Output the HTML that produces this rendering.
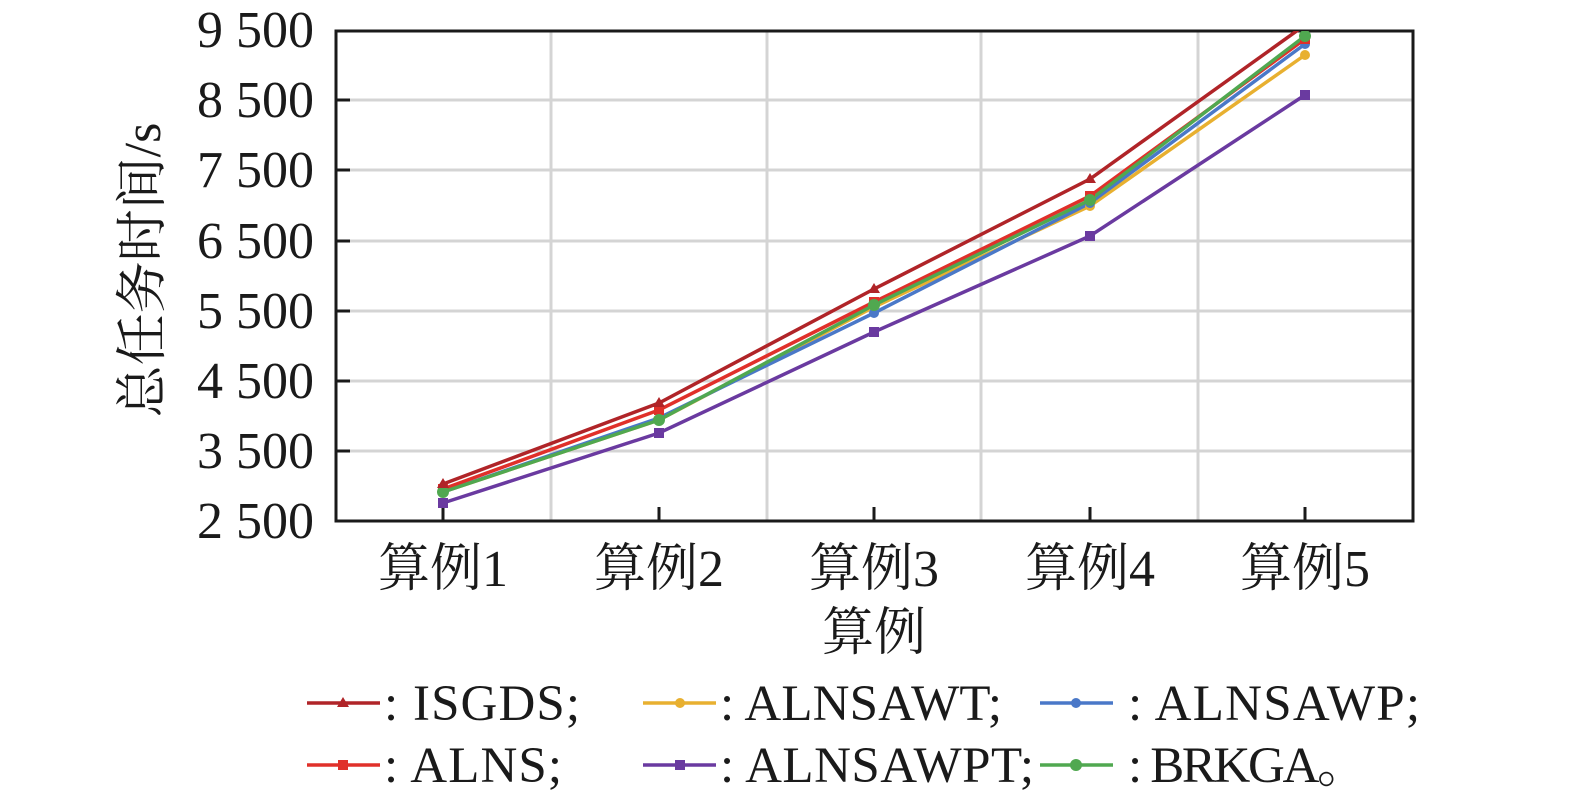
<!DOCTYPE html>
<html><head><meta charset="utf-8"><style>
body{margin:0;background:#fff;}
svg text{font-family:"Liberation Serif","Noto Serif CJK SC",serif;fill:#1a1a1a;}
</style></head><body>
<svg width="1575" height="797" viewBox="0 0 1575 797" xmlns="http://www.w3.org/2000/svg">
<defs><clipPath id="c"><rect x="336" y="31" width="1077" height="490"/></clipPath></defs>
<g stroke="#d4d4d4" stroke-width="3">
<line x1="336" x2="1413" y1="100" y2="100"/><line x1="336" x2="1413" y1="170" y2="170"/>
<line x1="336" x2="1413" y1="241" y2="241"/><line x1="336" x2="1413" y1="311" y2="311"/>
<line x1="336" x2="1413" y1="381" y2="381"/><line x1="336" x2="1413" y1="451" y2="451"/>
<line x1="551" x2="551" y1="31" y2="521"/><line x1="767" x2="767" y1="31" y2="521"/>
<line x1="981" x2="981" y1="31" y2="521"/><line x1="1198" x2="1198" y1="31" y2="521"/>
</g>
<rect x="336" y="31" width="1077" height="490" fill="none" stroke="#1a1a1a" stroke-width="3"/>
<g stroke="#1a1a1a" stroke-width="3">
<line x1="336" x2="350" y1="100" y2="100"/><line x1="336" x2="350" y1="170" y2="170"/>
<line x1="336" x2="350" y1="241" y2="241"/><line x1="336" x2="350" y1="311" y2="311"/>
<line x1="336" x2="350" y1="381" y2="381"/><line x1="336" x2="350" y1="451" y2="451"/>
<line x1="443" x2="443" y1="507" y2="521"/><line x1="659" x2="659" y1="507" y2="521"/>
<line x1="874" x2="874" y1="507" y2="521"/><line x1="1090" x2="1090" y1="507" y2="521"/>
<line x1="1305" x2="1305" y1="507" y2="521"/>
</g>
<g clip-path="url(#c)" fill="none" stroke-width="3.5">
<polyline stroke="#6a3aa0" points="443,503 659,433 874,332 1090,236 1305,95"/>
<polyline stroke="#e8b030" points="443,492 659,420 874,307 1090,206 1305,55"/>
<polyline stroke="#4a78c8" points="443,492 659,418 874,313 1090,203 1305,44"/>
<polyline stroke="#e0302a" points="443,489 659,410 874,302 1090,196 1305,39"/>
<polyline stroke="#50a850" points="443,492 659,420 874,305 1090,200 1305,36"/>
<polyline stroke="#b02428" points="443,484 659,403 874,289 1090,179 1305,25"/>
</g>
<g clip-path="url(#c)">
<g fill="#6a3aa0"><rect x="438" y="498" width="10" height="10"/><rect x="654" y="428" width="10" height="10"/><rect x="869" y="327" width="10" height="10"/><rect x="1085" y="231" width="10" height="10"/><rect x="1300" y="90" width="10" height="10"/></g>
<g fill="#e8b030"><circle cx="1305" cy="55" r="5"/><circle cx="1090" cy="206" r="5"/><circle cx="874" cy="307" r="5"/></g>
<g fill="#4a78c8"><circle cx="1305" cy="44" r="5"/><circle cx="874" cy="313" r="5"/><circle cx="1090" cy="203" r="5"/></g>
<g fill="#e0302a"><rect x="438" y="484" width="10" height="10"/><rect x="654" y="405" width="10" height="10"/><rect x="869" y="297" width="10" height="10"/><rect x="1085" y="191" width="10" height="10"/><rect x="1300" y="34" width="10" height="10"/></g>
<g fill="#50a850"><circle cx="443" cy="492" r="6"/><circle cx="659" cy="420" r="6"/><circle cx="874" cy="305" r="6"/><circle cx="1090" cy="200" r="6"/><circle cx="1305" cy="36" r="6"/></g>
<g fill="#b02428"><path d="M443,478 l6,10 h-12z"/><path d="M659,397 l6,10 h-12z"/><path d="M874,283 l6,10 h-12z"/><path d="M1090,173 l6,10 h-12z"/></g>
</g>
<g font-size="52" text-anchor="end">
<text x="314" y="47">9 500</text><text x="314" y="117">8 500</text><text x="314" y="187">7 500</text>
<text x="314" y="258">6 500</text><text x="314" y="328">5 500</text><text x="314" y="398">4 500</text>
<text x="314" y="468">3 500</text><text x="314" y="538">2 500</text>
</g>
<g font-size="52" text-anchor="middle">
<text x="443" y="586">算例1</text><text x="659" y="586">算例2</text><text x="874" y="586">算例3</text>
<text x="1090" y="586">算例4</text><text x="1305" y="586">算例5</text>
<text x="874" y="650">算例</text>
<text transform="translate(160,270) rotate(-90)">总任务时间/s</text>
</g>
<g stroke-width="3.5">
<line x1="307" x2="380" y1="703" y2="703" stroke="#b02428"/><path d="M343,697 l6,10 h-12z" fill="#b02428"/>
<line x1="643" x2="716" y1="703" y2="703" stroke="#e8b030"/><circle cx="680" cy="703" r="5" fill="#e8b030"/>
<line x1="1040" x2="1113" y1="703" y2="703" stroke="#4a78c8"/><circle cx="1076" cy="703" r="5" fill="#4a78c8"/>
<line x1="307" x2="380" y1="765" y2="765" stroke="#e0302a"/><rect x="338" y="760" width="10" height="10" fill="#e0302a"/>
<line x1="643" x2="716" y1="765" y2="765" stroke="#6a3aa0"/><rect x="675" y="760" width="10" height="10" fill="#6a3aa0"/>
<line x1="1040" x2="1113" y1="765" y2="765" stroke="#50a850"/><circle cx="1076" cy="765" r="6" fill="#50a850"/>
</g>
<g font-size="51">
<text x="384" y="720" textLength="196">: ISGDS;</text><text x="720" y="720" textLength="282">: ALNSAWT;</text><text x="1128" y="720" textLength="292">: ALNSAWP;</text>
<text x="384" y="782" textLength="178">: ALNS;</text><text x="720" y="782" textLength="314">: ALNSAWPT;</text><text x="1128" y="782" textLength="240">: BRKGA。</text>
</g>
</svg>
</body></html>
